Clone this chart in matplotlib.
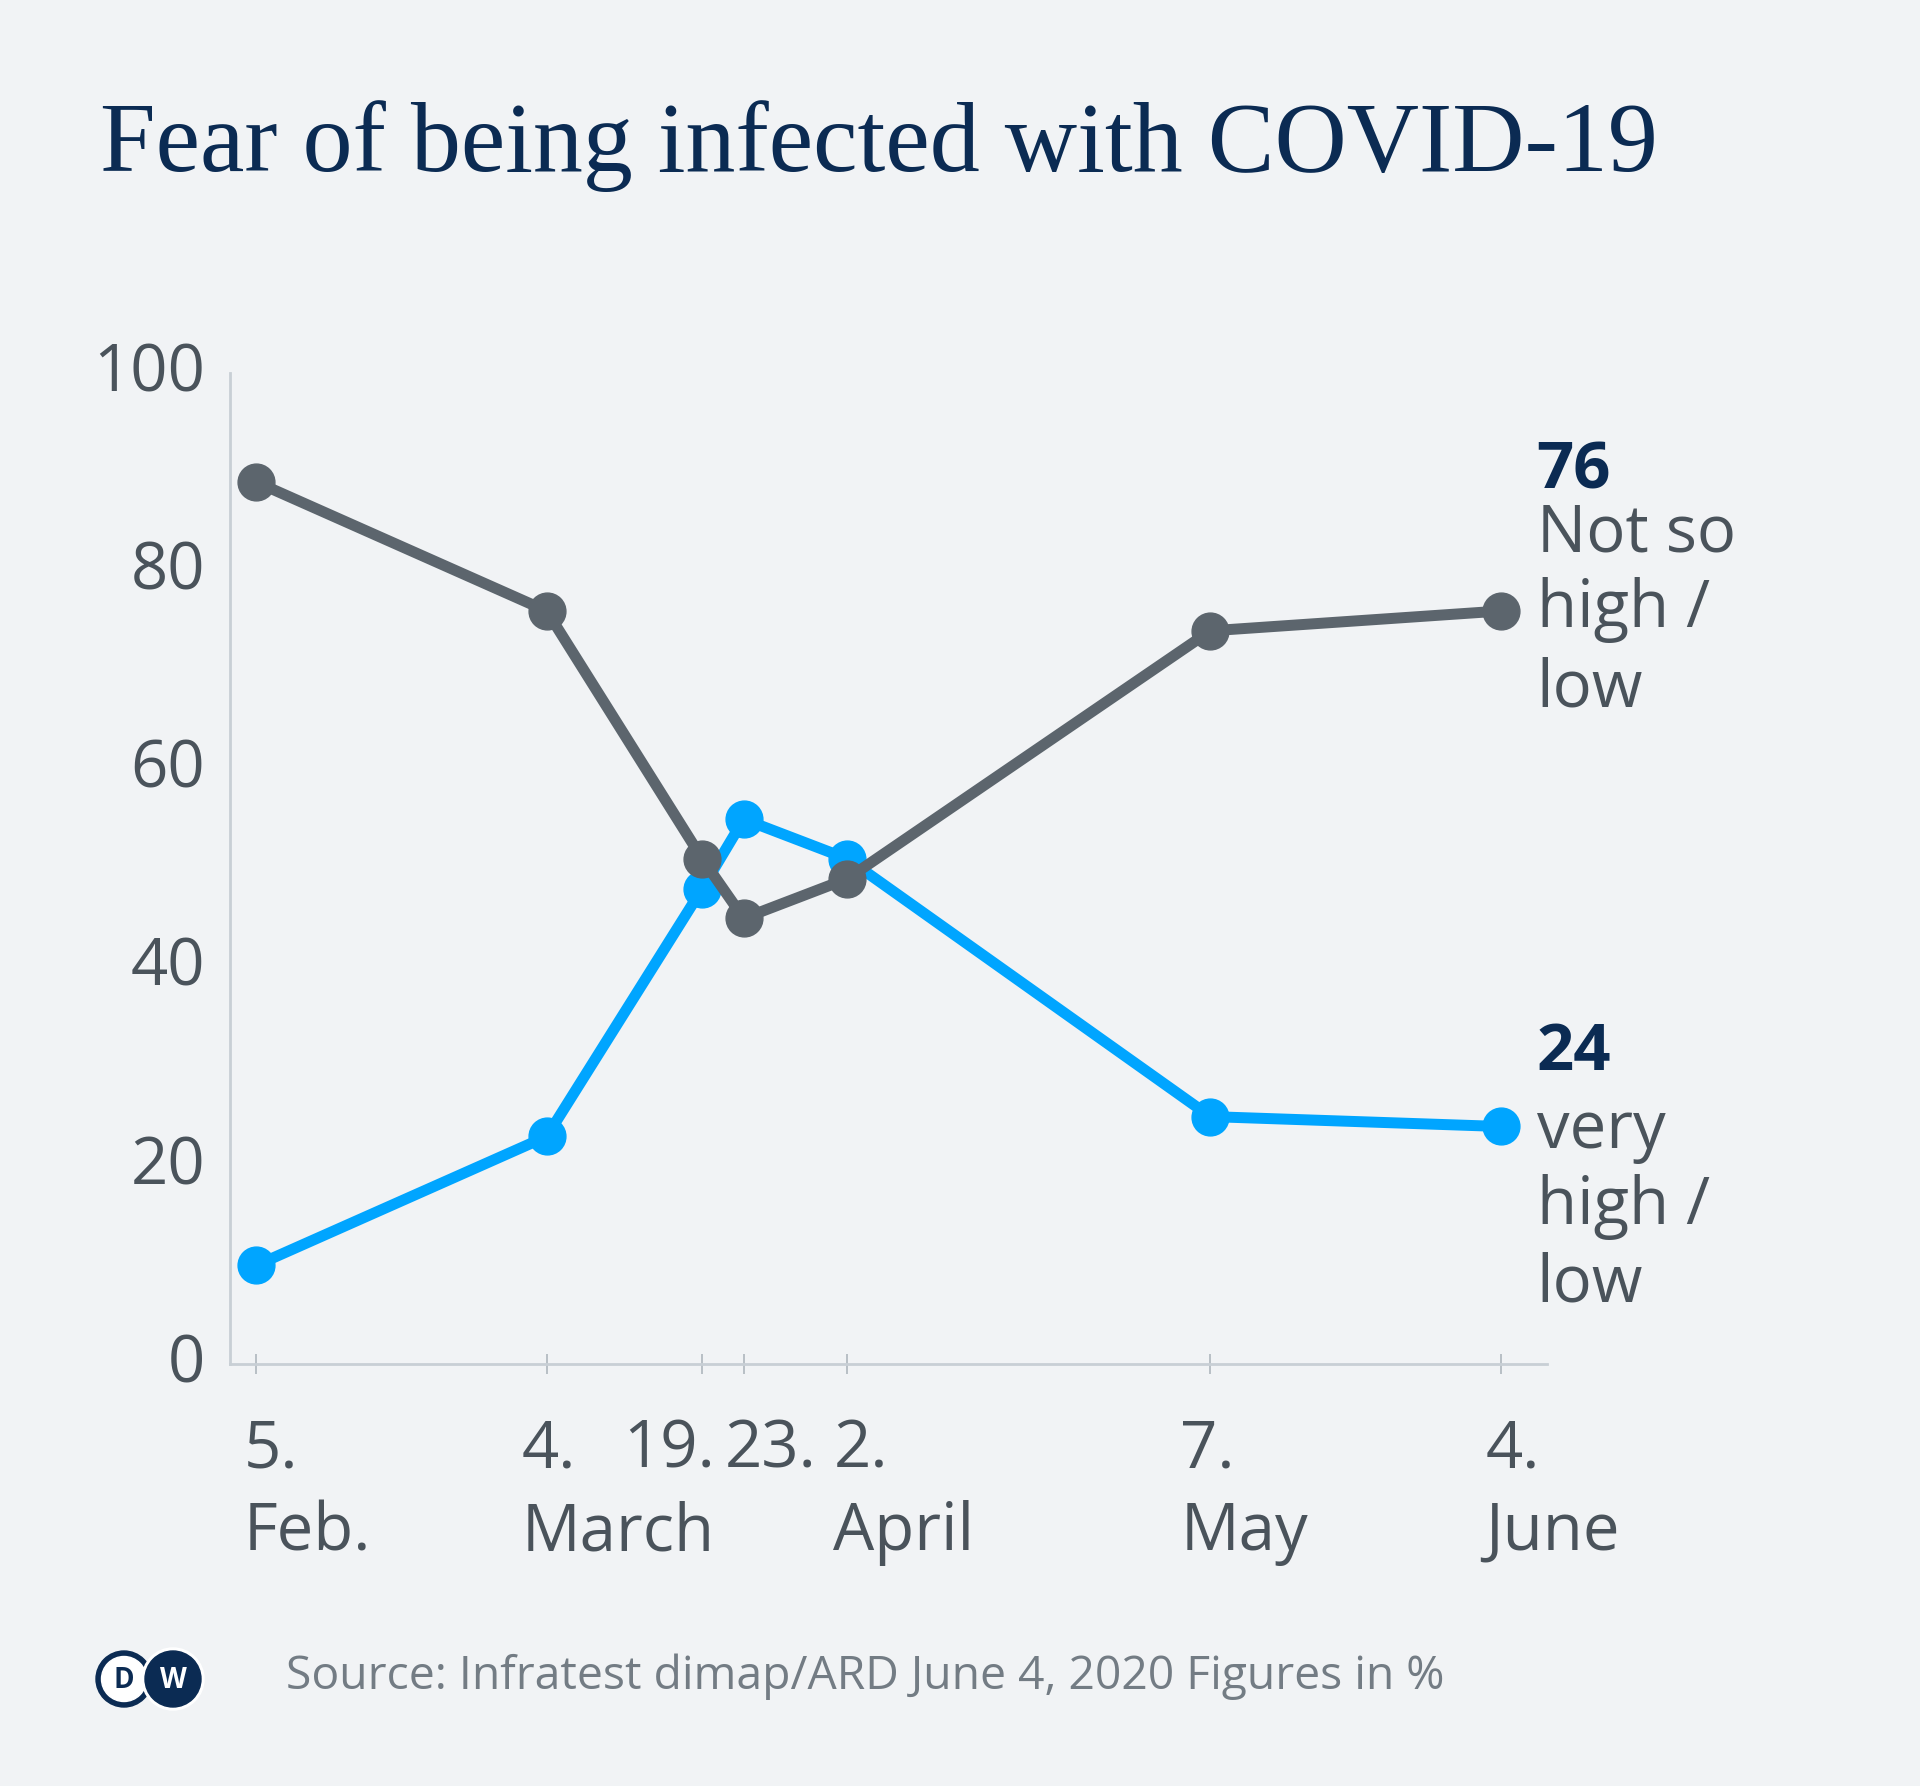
import matplotlib
matplotlib.use('Agg')
import matplotlib.pyplot as plt
import matplotlib.dates as mdates
from matplotlib.transforms import offset_copy, blended_transform_factory, ScaledTranslation
from matplotlib.patches import Circle
import datetime as dt

# ---------------- data ----------------
dates = ['2020-02-05', '2020-03-04', '2020-03-19', '2020-03-23',
         '2020-04-02', '2020-05-07', '2020-06-04']
not_so_high = [89, 76, 51, 45, 49, 74, 76]
very_high = [10, 23, 48, 55, 51, 25, 24]
day_labels = ['5.', '4.', '19.', '23.', '2.', '7.', '4.']
month_labels = ['Feb.', 'March', '', '', 'April', 'May', 'June']
y_ticks = [0, 20, 40, 60, 80, 100]
series_labels = {'not': 'Not so\nhigh /\nlow', 'very': 'very\nhigh /\nlow'}
title = 'Fear of being infected with COVID-19'
source = 'Source: Infratest dimap/ARD June 4, 2020 Figures in %'

# ---------------- style ----------------
BG = '#f1f3f5'
NAVY = '#0b2b53'
GRAY = '#5c656d'
BLUE = '#00a5ff'
TXT = '#4a535b'
SRC = '#737c84'
AXC = '#c8cfd5'
SANS = ['Open Sans', 'DejaVu Sans']
FS = 47

W, H, DPI = 19.2, 17.86, 100
fig = plt.figure(figsize=(W, H), dpi=DPI, facecolor=BG)

px_w, px_h = W * DPI, H * DPI
x_left, x_right = 230, 1547
y_bot, y_top = 1364.4, 373.1
ax = fig.add_axes([x_left / px_w, 1 - y_bot / px_h,
                   (x_right - x_left) / px_w, (y_bot - y_top) / px_h])
ax.set_facecolor(BG)

xd = [mdates.date2num(dt.datetime.strptime(d, '%Y-%m-%d')) for d in dates]
ax.set_xlim(xd[0] - 2.55, xd[-1] + 4.47)
ax.set_ylim(0, 100)

lw = 7.9
ms = 26.5
ax.plot(xd, very_high, color=BLUE, lw=lw, marker='o', ms=ms, mec=BLUE,
        solid_capstyle='round', clip_on=False, zorder=3)
ax.plot(xd, not_so_high, color=GRAY, lw=lw, marker='o', ms=ms, mec=GRAY,
        solid_capstyle='round', clip_on=False, zorder=4)

for s in ['top', 'right']:
    ax.spines[s].set_visible(False)
for s in ['left', 'bottom']:
    ax.spines[s].set_color(AXC)
    ax.spines[s].set_linewidth(2.0)

# y ticks
ax.set_yticks(y_ticks)
ax.set_yticklabels([str(v) for v in y_ticks])
ax.tick_params(axis='y', length=0, pad=18, labelsize=FS, labelcolor=TXT)
for lab in ax.get_yticklabels():
    lab.set_fontfamily(SANS)
    lab.set_transform(lab.get_transform() + ScaledTranslation(0, 7 / DPI, fig.dpi_scale_trans))

# x ticks
ax.set_xticks(xd)
ax.set_xticklabels([])
ax.tick_params(axis='x', direction='inout', length=14, width=1.3, color='#b3bbc2')

trans = blended_transform_factory(ax.transData, ax.transAxes)
day_dx = [-13, -25, 13, -19, -14, -30, -15]
day_ha = ['left', 'left', 'right', 'left', 'left', 'left', 'left']
for x, d, m, dx, ha in zip(xd, day_labels, month_labels, day_dx, day_ha):
    t1 = offset_copy(trans, fig=fig, x=dx, y=-102.6, units='dots')
    ax.text(x, 0, d, transform=t1, ha=ha, va='baseline', fontsize=FS,
            color=TXT, family=SANS, clip_on=False)
    if m:
        t2 = offset_copy(trans, fig=fig, x=dx, y=-185.6, units='dots')
        ax.text(x, 0, m, transform=t2, ha='left', va='baseline', fontsize=FS,
                color=TXT, family=SANS, clip_on=False)

# end labels
def end_label(yval, value_dy, lines_dy, text):
    tv = offset_copy(ax.transData, fig=fig, x=36, y=value_dy, units='dots')
    ax.text(xd[-1], yval, str(yval), transform=tv, ha='left', va='baseline',
            fontsize=FS, fontweight='bold', color=NAVY, family=SANS, clip_on=False)
    for line, dy in zip(text.split('\n'), lines_dy):
        tl = offset_copy(ax.transData, fig=fig, x=36, y=dy, units='dots')
        ax.text(xd[-1], yval, line, transform=tl, ha='left', va='baseline',
                fontsize=FS, color=TXT, family=SANS, clip_on=False)

end_label(not_so_high[-1], 123, [60, -16, -95], series_labels['not'])
end_label(very_high[-1], 56, [-22, -98, -175], series_labels['very'])

# title
fig.text(100 / px_w, 1 - 171 / px_h, title, ha='left', va='baseline',
         fontsize=72, color=NAVY, family=['Liberation Serif', 'DejaVu Serif'])

# source
fig.text(286 / px_w, 1 - 1689 / px_h, source, ha='left', va='baseline',
         fontsize=33.3, color=SRC, family=SANS)

# DW logo
lx0, lx1, ly0, ly1 = 90, 210, 1640, 1720
lax = fig.add_axes([lx0 / px_w, 1 - ly1 / px_h, (lx1 - lx0) / px_w, (ly1 - ly0) / px_h])
lax.set_xlim(lx0, lx1)
lax.set_ylim(ly1, ly0)
lax.axis('off')
lax.add_patch(Circle((124, 1679), 28, color=NAVY))
lax.add_patch(Circle((124, 1679), 22.5, color='white'))
lax.text(124, 1680, 'D', ha='center', va='center', fontsize=20, fontweight='bold',
         color=NAVY, family=SANS)
lax.add_patch(Circle((173, 1679), 31, color='white'))
lax.add_patch(Circle((173, 1679), 28, color=NAVY))
lax.text(173, 1680, 'W', ha='center', va='center', fontsize=20, fontweight='bold',
         color='white', family=SANS)

fig.savefig('out.png', dpi=DPI, facecolor=BG)
